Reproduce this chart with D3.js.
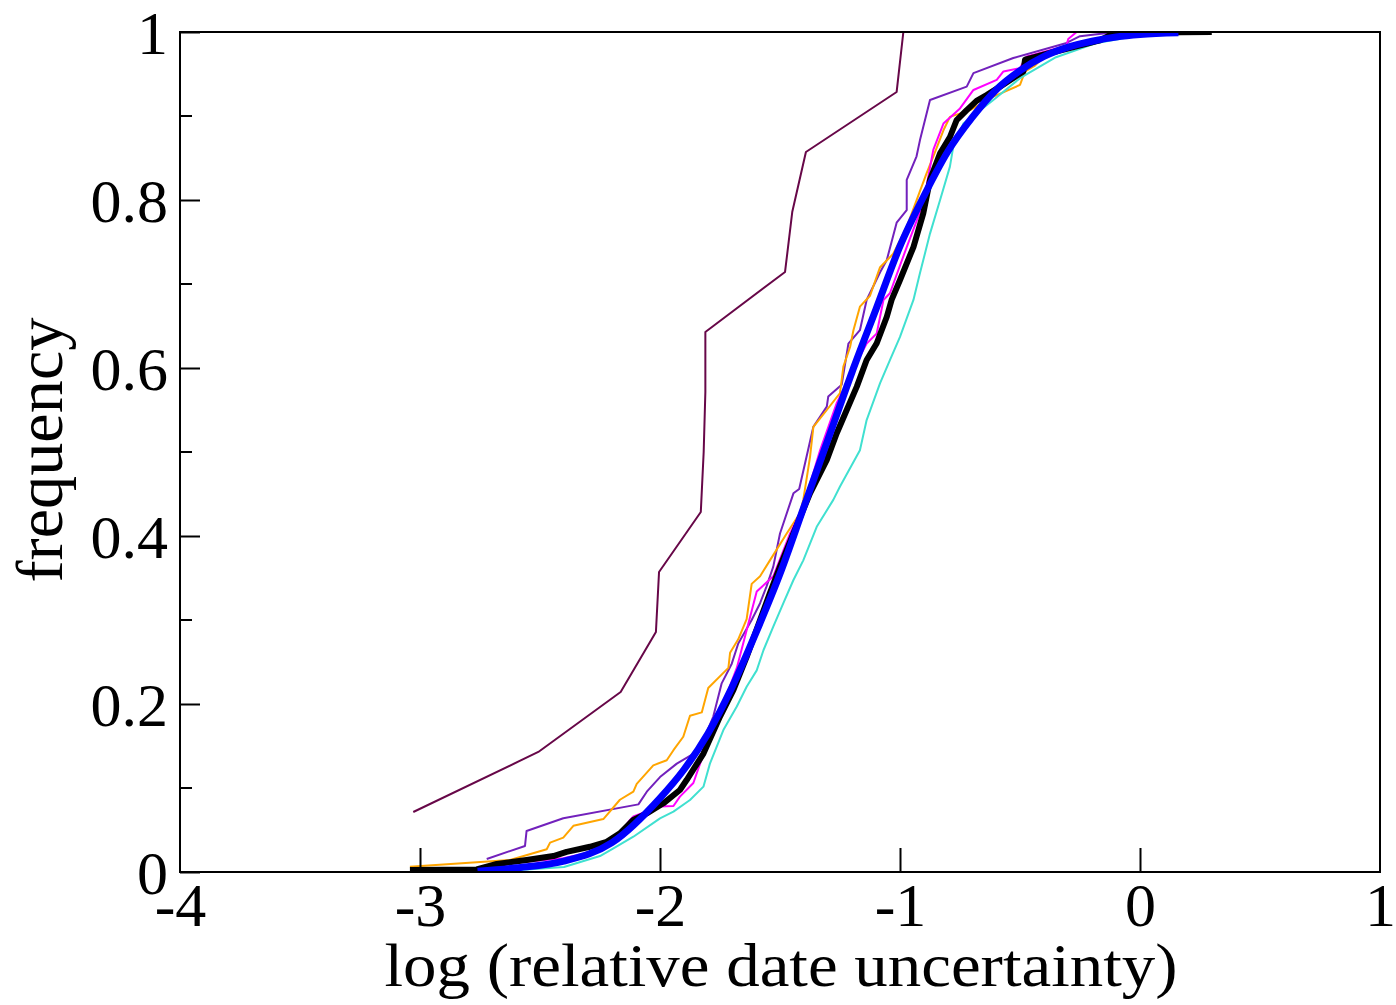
<!DOCTYPE html>
<html>
<head>
<meta charset="utf-8">
<script src="https://cdn.jsdelivr.net/npm/d3@7"></script>
<style>
  body { margin: 0; background: #fff; }
  svg { display: block; }
</style>
</head>
<body>
<svg id="chart" width="1396" height="1005"></svg>
<script>
// ---- data: [log10 relative uncertainty, cumulative frequency] ----
var maroonPts = [[-3.028,0.0714],[-2.507,0.1429],[-2.164,0.2143],[-2.017,0.2857],[-2.004,0.3571],
  [-1.830,0.4286],[-1.818,0.5],[-1.811,0.5714],[-1.811,0.6429],[-1.479,0.7143],[-1.449,0.7857],
  [-1.392,0.8571],[-1.014,0.9286],[-0.986,1.0]];

var indigoPts = [[-2.722,0.0155],[-2.5625,0.031],[-2.556,0.0488],[-2.403,0.064],[-2.09,0.0805],
  [-2.055,0.0956],[-2.0,0.113],[-1.93,0.129],[-1.847,0.143],[-1.819,0.157],[-1.778,0.185],
  [-1.743,0.2246],[-1.701,0.248],[-1.674,0.272],[-1.618,0.30],[-1.583,0.32],[-1.556,0.34],
  [-1.528,0.3635],[-1.5,0.403],[-1.444,0.4508],[-1.42,0.456],[-1.361,0.530],[-1.305,0.554],
  [-1.299,0.566],[-1.243,0.58],[-1.215,0.629],[-1.167,0.645],[-1.139,0.681],[-1.083,0.714],
  [-1.055,0.7286],[-1.014,0.773],[-0.972,0.788],[-0.972,0.824],[-0.931,0.852],[-0.917,0.871],
  [-0.875,0.919],[-0.722,0.935],[-0.694,0.951],[-0.528,0.969],[-0.306,0.987],[-0.25,0.995],[-0.1,1.0]];

var orangePts = [[-3.042,0.0063],[-2.625,0.0143],[-2.472,0.027],[-2.458,0.035],[-2.403,0.041],
  [-2.361,0.055],[-2.236,0.063],[-2.167,0.086],[-2.111,0.0956],[-2.097,0.105],[-2.028,0.127],
  [-1.972,0.133],[-1.944,0.145],[-1.903,0.161],[-1.875,0.186],[-1.826,0.190],[-1.799,0.219],
  [-1.715,0.243],[-1.708,0.261],[-1.674,0.277],[-1.639,0.301],[-1.618,0.343],[-1.583,0.352],
  [-1.542,0.371],[-1.472,0.403],[-1.417,0.427],[-1.403,0.443],[-1.375,0.494],[-1.361,0.530],
  [-1.305,0.55],[-1.25,0.57],[-1.236,0.6016],[-1.208,0.625],[-1.194,0.645],[-1.167,0.673],
  [-1.125,0.686],[-1.083,0.720],[-1.028,0.736],[-0.972,0.768],[-0.889,0.832],[-0.861,0.852],
  [-0.819,0.883],[-0.792,0.899],[-0.708,0.907],[-0.611,0.923],[-0.5,0.937],[-0.479,0.953],
  [-0.4375,0.96],[-0.375,0.978],[-0.125,0.992],[0.158,0.9992]];

var magentaPts = [[-2.70,0.004],[-2.625,0.0103],[-2.403,0.0163],[-2.25,0.026],[-2.194,0.036],
  [-2.125,0.062],[-2.111,0.066],[-2.0,0.078],[-1.944,0.0786],[-1.917,0.0897],[-1.861,0.106],
  [-1.833,0.129],[-1.792,0.158],[-1.68,0.243],[-1.597,0.334],[-1.528,0.352],[-1.458,0.403],
  [-1.403,0.435],[-1.333,0.502],[-1.264,0.558],[-1.236,0.574],[-1.167,0.6135],[-1.139,0.629],
  [-1.097,0.641],[-1.069,0.681],[-1.042,0.689],[-0.972,0.744],[-0.903,0.796],[-0.861,0.860],
  [-0.819,0.891],[-0.75,0.909],[-0.694,0.931],[-0.597,0.943],[-0.569,0.953],[-0.5,0.957],
  [-0.472,0.971],[-0.306,0.9837],[-0.299,0.9917],[-0.264,1.0]];

var turquoisePts = [[-2.6,0.002],[-2.40,0.006],[-2.25,0.019],[-2.194,0.028],[-2.111,0.042],
  [-2.0,0.0639],[-1.944,0.0718],[-1.875,0.0857],[-1.819,0.1016],[-1.792,0.129],[-1.736,0.169],
  [-1.68,0.197],[-1.639,0.2206],[-1.597,0.240],[-1.569,0.264],[-1.528,0.292],[-1.486,0.320],
  [-1.444,0.3476],[-1.403,0.371],[-1.347,0.411],[-1.278,0.443],[-1.25,0.459],[-1.167,0.502],
  [-1.139,0.538],[-1.083,0.582],[-1.042,0.6095],[-1.0,0.637],[-0.944,0.681],[-0.917,0.7127],
  [-0.875,0.760],[-0.833,0.80],[-0.792,0.8397],[-0.778,0.8635],[-0.736,0.891],[-0.611,0.919],
  [-0.5,0.945],[-0.35,0.97],[-0.18,0.987],[0.0,0.996],[0.15,0.999]];

var allPts = [[-3.042,0.0024],[-2.764,0.003],[-2.68,0.0095],[-2.556,0.0143],[-2.444,0.019],
  [-2.389,0.024],[-2.292,0.030],[-2.222,0.036],[-2.167,0.046],[-2.111,0.062],[-2.055,0.0698],
  [-1.986,0.0818],[-1.917,0.0976],[-1.889,0.1095],[-1.819,0.141],[-1.75,0.185],[-1.694,0.2167],
  [-1.639,0.256],[-1.583,0.300],[-1.542,0.332],[-1.5,0.3635],[-1.444,0.403],[-1.375,0.4508],
  [-1.305,0.4905],[-1.264,0.522],[-1.222,0.55],[-1.18,0.5778],[-1.139,0.6095],[-1.097,0.6294],
  [-1.055,0.661],[-1.035,0.681],[-1.0,0.7048],[-0.944,0.744],[-0.903,0.784],[-0.875,0.824],
  [-0.833,0.8556],[-0.792,0.875],[-0.764,0.895],[-0.722,0.907],[-0.681,0.918],[-0.639,0.925],
  [-0.583,0.935],[-0.486,0.953],[-0.479,0.967],[-0.375,0.975],[-0.167,0.990],[-0.125,0.9964],
  [0.167,0.9996],[0.299,1.0]];

// fitted curve (thick blue)
var fitX = [-2.76,-2.6,-2.4,-2.2,-2.0,-1.9,-1.8,-1.7,-1.6,-1.5,-1.4,-1.3,-1.2,-1.1,-1.0,
  -0.9,-0.8,-0.7,-0.6,-0.5,-0.4,-0.3,-0.2,-0.1,0.0,0.16];
var fitY = [0.001,0.005,0.013,0.035,0.088,0.122,0.165,0.22,0.285,0.355,0.435,0.515,0.595,0.67,
  0.745,0.805,0.858,0.898,0.931,0.954,0.971,0.982,0.989,0.994,0.997,0.999];

var xTicks = [-4,-3,-2,-1,0,1];
var yTicks = [0,0.2,0.4,0.6,0.8,1];
var yMinor = [0.1,0.3,0.5,0.7,0.9];

var svg = d3.select("#chart");
var padL = 180, padR = 1380, padT = 32, padB = 872;
var serif = "'Liberation Serif', 'Times New Roman', serif";

var x = d3.scaleLinear().domain([-4,1]).range([padL,padR]);
var y = d3.scaleLinear().domain([0,1]).range([padB,padT]);

svg.append("clipPath").attr("id","clip")
  .append("rect").attr("x",padL).attr("y",padT).attr("width",padR-padL).attr("height",padB-padT);

var line = d3.line().x(function(d){ return x(d[0]); }).y(function(d){ return y(d[1]); });
var smooth = d3.line().curve(d3.curveMonotoneX)
  .x(function(d){ return x(d[0]); }).y(function(d){ return y(d[1]); });

var plot = svg.append("g").attr("clip-path","url(#clip)");

var thin = [
  {pts: maroonPts, color: "#670748"},
  {pts: indigoPts, color: "#7221bc"},
  {pts: orangePts, color: "#ffa500"},
  {pts: magentaPts, color: "#ff00ff"},
  {pts: turquoisePts, color: "#40e0d0"}
];
thin.forEach(function(s){
  plot.append("path").datum(s.pts).attr("d",line)
    .attr("fill","none").attr("stroke",s.color).attr("stroke-width",2)
    .attr("stroke-linejoin","round");
});

plot.append("path").datum(allPts).attr("d",line)
  .attr("fill","none").attr("stroke","#000").attr("stroke-width",6)
  .attr("stroke-linejoin","round");

var fitPts = fitX.map(function(v,i){ return [v, fitY[i]]; });
plot.append("path").datum(fitPts).attr("d",smooth)
  .attr("fill","none").attr("stroke","#0000ff").attr("stroke-width",7);

// axes, ticks pointing inside the frame
var xAxis = d3.axisBottom(x).tickValues(xTicks).tickSize(-24).tickPadding(32)
  .tickFormat(function(d){ return String(d); });
var yAxis = d3.axisLeft(y).tickValues(yTicks).tickSize(-20).tickPadding(12)
  .tickFormat(function(d){ return d === 0 || d === 1 ? String(d) : d3.format(".1f")(d); });

var gx = svg.append("g").attr("transform","translate(0,"+padB+")").call(xAxis);
var gy = svg.append("g").attr("transform","translate("+padL+",0)").call(yAxis);
[gx, gy].forEach(function(g){
  g.select(".domain").remove();
  g.selectAll(".tick line").attr("stroke","#000").attr("stroke-width",2);
  g.selectAll("text").attr("fill","#000")
    .style("font-family",serif)
    .style("font-size","62px");
});
gx.selectAll(".tick").filter(function(d){ return d === -4 || d === 1; }).select("line").remove();
gx.selectAll(".tick text").attr("dy","0.35em");
gy.selectAll(".tick text").attr("dy","0.35em");

svg.append("g").selectAll("line").data(yMinor).join("line")
  .attr("x1",padL).attr("x2",padL+12)
  .attr("y1",function(d){ return y(d); }).attr("y2",function(d){ return y(d); })
  .attr("stroke","#000").attr("stroke-width",2);

svg.append("rect").attr("x",padL).attr("y",padT)
  .attr("width",padR-padL).attr("height",padB-padT)
  .attr("fill","none").attr("stroke","#000").attr("stroke-width",2);

svg.append("text")
  .attr("x",781).attr("y",986)
  .attr("text-anchor","middle")
  .attr("textLength",793).attr("lengthAdjust","spacingAndGlyphs")
  .style("font-family",serif)
  .style("font-size","62px")
  .text("log (relative date uncertainty)");

svg.append("text")
  .attr("transform","translate(62,450) rotate(-90)")
  .attr("text-anchor","middle")
  .attr("textLength",265).attr("lengthAdjust","spacingAndGlyphs")
  .style("font-family",serif)
  .style("font-size","66px")
  .text("frequency");
</script>
</body>
</html>
